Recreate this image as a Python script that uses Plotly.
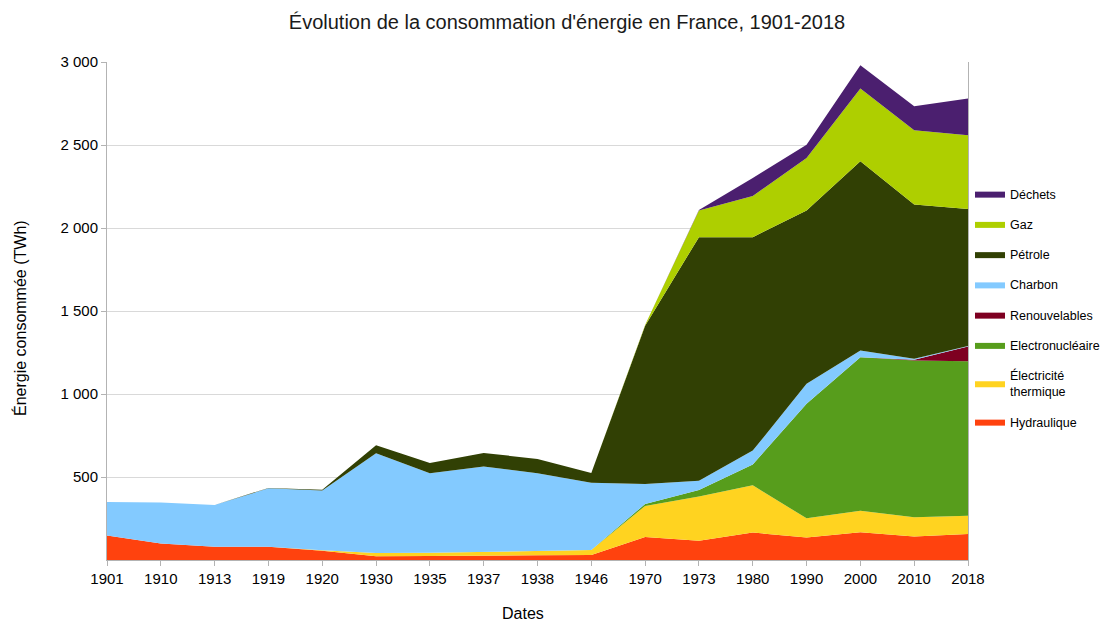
import plotly.graph_objects as go

years = ["1901", "1910", "1913", "1919", "1920", "1930", "1935", "1937", "1938",
         "1946", "1970", "1973", "1980", "1990", "2000", "2010", "2018"]
hydraulique = [147, 100, 80, 80, 56, 22, 24, 28, 28, 30, 139, 116, 165, 136, 167, 142, 157]
thermique = [0, 0, 0, 0, 3, 20, 20, 20, 24, 30, 187, 266, 285, 115, 130, 115, 110]
nucleaire = [0, 0, 0, 0, 0, 0, 0, 0, 0, 0, 12, 40, 125, 690, 925, 945, 931]
renouvelables = [0, 0, 0, 0, 0, 0, 0, 0, 0, 0, 0, 0, 0, 0, 0, 5, 88]
charbon = [203, 247, 252, 352, 359, 601, 478, 516, 470, 406, 120, 56, 84, 120, 40, 5, 3]
petrole = [0, 0, 0, 2, 5, 48, 63, 81, 87, 58, 953, 1467, 1286, 1045, 1140, 930, 825]
gaz = [0, 0, 0, 0, 0, 0, 0, 0, 0, 0, 5, 161, 248, 316, 438, 447, 444]
dechets = [0, 0, 0, 0, 0, 0, 0, 0, 0, 0, 0, 3, 108, 80, 141, 144, 222]

series = [
    ("Hydraulique", hydraulique, "#ff420e"),
    ("Électricité<br>thermique", thermique, "#ffd320"),
    ("Electronucléaire", nucleaire, "#579d1c"),
    ("Renouvelables", renouvelables, "#7e0021"),
    ("Charbon", charbon, "#83caff"),
    ("Pétrole", petrole, "#314004"),
    ("Gaz", gaz, "#aecf00"),
    ("Déchets", dechets, "#4b1f6f"),
]

fig = go.Figure()
n = len(series)
for i, (name, vals, col) in enumerate(series):
    fig.add_trace(go.Scatter(
        x=years, y=vals, name=name, mode="lines",
        stackgroup="one", line=dict(width=0, color=col),
        fillcolor=col, legendgroup=f"g{i}", legendrank=n - i,
    ))

FONT = "Liberation Sans, Arial, sans-serif"
W, H = 1108, 621
L, R, T, B = 107, 140, 62, 61

fig.update_layout(
    width=W, height=H,
    margin=dict(l=L, r=R, t=T, b=B, autoexpand=False),
    paper_bgcolor="white", plot_bgcolor="white",
    separators=", ",
    font=dict(family=FONT, size=15, color="#000"),
    title=dict(text="Évolution de la consommation d'énergie en France, 1901-2018",
               x=567 / W, xanchor="center", y=1 - 22 / H, yanchor="middle",
               font=dict(size=20, family=FONT, color="#1a1a1a")),
    showlegend=True,
    legend=dict(x=1.0023, xanchor="left", y=0.506, yanchor="middle",
                traceorder="grouped", tracegroupgap=11,
                font=dict(size=12.5, family=FONT), itemwidth=30,
                bgcolor="rgba(0,0,0,0)"),
    xaxis=dict(type="category", range=[0, 16], showgrid=False,
               showline=True, linecolor="#b3b3b3", linewidth=1,
               ticks="outside", ticklen=5, tickcolor="#b3b3b3",
               tickfont=dict(size=15), zeroline=False),
    yaxis=dict(range=[0, 3000], tickvals=[500, 1000, 1500, 2000, 2500, 3000],
               tickformat=",d", showgrid=True, gridcolor="#d9d9d9", gridwidth=1,
               showline=True, linecolor="#b3b3b3", mirror=True,
               ticks="outside", ticklen=5, tickcolor="#b3b3b3",
               tickfont=dict(size=15), zeroline=False),
    annotations=[
        dict(text="Dates", x=523 / W, y=1 - 613 / H, xref="paper", yref="paper",
             xanchor="center", yanchor="middle", showarrow=False,
             font=dict(size=16, family=FONT)),
        dict(text="Énergie consommée (TWh)", x=20 / W, y=1 - 318 / H,
             xref="paper", yref="paper", textangle=-90,
             xanchor="center", yanchor="middle", showarrow=False,
             font=dict(size=16, family=FONT)),
    ],
)
# convert annotation coords from page pixels to paper coords
pw, ph = W - L - R, H - T - B
for a in fig.layout.annotations:
    px, py = a.x * W, (1 - a.y) * H
    a.x = (px - L) / pw
    a.y = 1 - (py - T) / ph

fig.write_html("out.html", config={"displayModeBar": False},
               post_script="document.body.style.margin='0';document.body.style.overflow='hidden';")
